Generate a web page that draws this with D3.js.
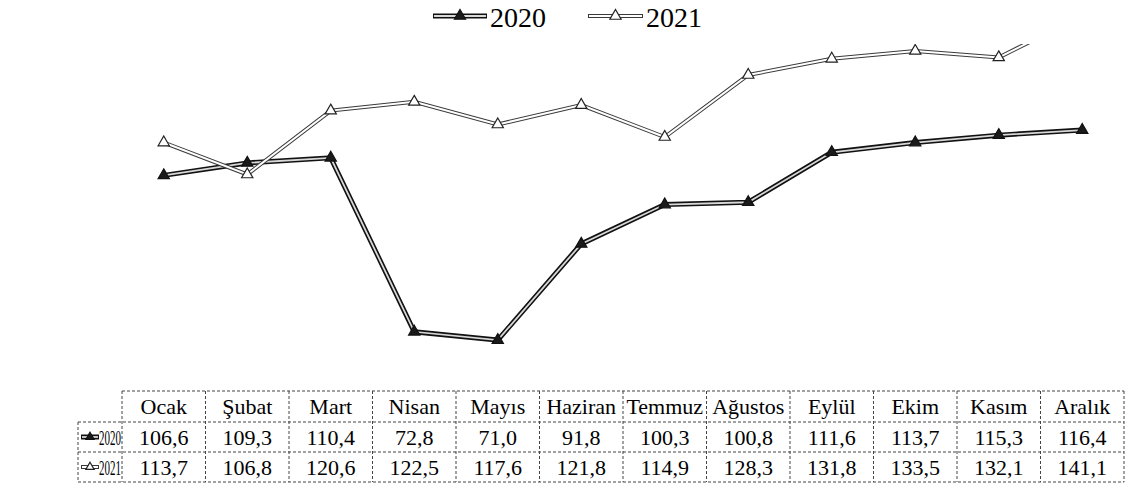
<!DOCTYPE html>
<html>
<head>
<meta charset="utf-8">
<script src="https://cdn.jsdelivr.net/npm/d3@7"></script>
<style>
  html, body { margin: 0; padding: 0; background: #fff; }
  svg { display: block; }
</style>
</head>
<body>
<svg id="chart" width="1127" height="498"></svg>
<script>
// Monthly index values, 2020 vs 2021
const months = ["Ocak", "Şubat", "Mart", "Nisan", "Mayıs", "Haziran", "Temmuz", "Ağustos", "Eylül", "Ekim", "Kasım", "Aralık"];
const values2020 = [106.6, 109.3, 110.4, 72.8, 71.0, 91.8, 100.3, 100.8, 111.6, 113.7, 115.3, 116.4];
const values2021 = [113.7, 106.8, 120.6, 122.5, 117.6, 121.8, 114.9, 128.3, 131.8, 133.5, 132.1, 141.1];
const seriesNames = ["2020", "2021"];
const yDomain = [60, 135];

const FONT = "'Liberation Serif', 'DejaVu Serif', serif";

const series = [
  { name: seriesNames[0], values: values2020, outer: "#111", outerW: 5, inner: "#d8d8d8", innerW: 1.8, markFill: "#1a1a1a", markStroke: "#111" },
  { name: seriesNames[1], values: values2021, outer: "#3a3a3a", outerW: 4, inner: "#ffffff", innerW: 2, markFill: "#ffffff", markStroke: "#222" }
];

const svg = d3.select("#chart").attr("font-family", FONT);

const plot = { left: 122, right: 1124, top: 44, bottom: 391 };
const x = d3.scaleBand().domain(months).range([plot.left, plot.right]);
const cx = m => x(m) + x.bandwidth() / 2;
const y = d3.scaleLinear().domain(yDomain).range([plot.bottom, plot.top]);

const fmt = d3.formatLocale({ decimal: ",", thousands: ".", grouping: [3], currency: ["", ""] }).format(".1f");

svg.append("defs").append("clipPath").attr("id", "plotClip")
  .append("rect")
  .attr("x", plot.left - 20).attr("y", plot.top)
  .attr("width", plot.right - plot.left + 40).attr("height", plot.bottom - plot.top);

const tri = d3.symbol().type(d3.symbolTriangle).size(55);
const triSmall = d3.symbol().type(d3.symbolTriangle).size(30);

const line = d3.line().x((d, i) => cx(months[i])).y(d => y(d));

const g = svg.append("g").attr("clip-path", "url(#plotClip)");

// Lines drawn as an outlined double stroke, with triangle markers
series.forEach(s => {
  g.append("path").attr("d", line(s.values)).attr("fill", "none")
    .attr("stroke", s.outer).attr("stroke-width", s.outerW).attr("stroke-linejoin", "miter");
  g.append("path").attr("d", line(s.values)).attr("fill", "none")
    .attr("stroke", s.inner).attr("stroke-width", s.innerW).attr("stroke-linejoin", "miter");
  g.selectAll(null).data(s.values).join("path")
    .attr("d", tri)
    .attr("transform", (d, i) => `translate(${cx(months[i])},${y(d)})`)
    .attr("fill", s.markFill).attr("stroke", s.markStroke).attr("stroke-width", 1.2);
});

// Legend key: short outlined line with a marker in the middle
function legendKey(sel, s, x0, x1, yy, sym) {
  sel.append("line").attr("x1", x0).attr("x2", x1).attr("y1", yy).attr("y2", yy)
    .attr("stroke", s.outer).attr("stroke-width", s.outerW);
  sel.append("line").attr("x1", x0 + 1).attr("x2", x1 - 1).attr("y1", yy).attr("y2", yy)
    .attr("stroke", s.inner).attr("stroke-width", s.innerW);
  sel.append("path").attr("d", sym).attr("transform", `translate(${(x0 + x1) / 2},${yy})`)
    .attr("fill", s.markFill).attr("stroke", s.markStroke).attr("stroke-width", 1.2);
}

const legend = svg.append("g");
const legendPos = [{ k0: 433, k1: 487, tx: 490 }, { k0: 588, k1: 643, tx: 646 }];
series.forEach((s, i) => {
  legendKey(legend, s, legendPos[i].k0, legendPos[i].k1, 16, tri);
  legend.append("text").attr("x", legendPos[i].tx).attr("y", 27)
    .attr("font-size", 28).text(s.name);
});

// Data table below the plot
const table = svg.append("g");
const rowY = [391, 422, 452, 482];
const tableLeft = 78;
const border = { stroke: "#444", "stroke-width": 1, "stroke-dasharray": "3,2" };
function hline(x1, x2, yy) {
  const l = table.append("line").attr("x1", x1).attr("x2", x2).attr("y1", yy).attr("y2", yy);
  Object.entries(border).forEach(([k, v]) => l.attr(k, v));
}
function vline(xx, y1, y2) {
  const l = table.append("line").attr("x1", xx).attr("x2", xx).attr("y1", y1).attr("y2", y2);
  Object.entries(border).forEach(([k, v]) => l.attr(k, v));
}
hline(plot.left, plot.right, rowY[0]);
hline(tableLeft, plot.right, rowY[1]);
hline(tableLeft, plot.right, rowY[2]);
hline(tableLeft, plot.right, rowY[3]);
months.forEach(m => vline(x(m), rowY[0], rowY[3]));
vline(plot.right, rowY[0], rowY[3]);
vline(tableLeft, rowY[1], rowY[3]);

table.selectAll(null).data(months).join("text")
  .attr("x", m => cx(m)).attr("y", rowY[0] + 23)
  .attr("text-anchor", "middle").attr("font-size", 22).text(m => m);

series.forEach((s, r) => {
  const base = rowY[r + 1] + 23;
  table.selectAll(null).data(s.values).join("text")
    .attr("x", (d, i) => cx(months[i])).attr("y", base)
    .attr("text-anchor", "middle").attr("font-size", 22).text(d => fmt(d));
  legendKey(table, s, tableLeft + 3, tableLeft + 21, rowY[r + 1] + 15, triSmall);
  table.append("text").attr("x", tableLeft + 21).attr("y", base)
    .attr("font-size", 22).attr("textLength", 22).attr("lengthAdjust", "spacingAndGlyphs")
    .text(s.name);
});
</script>
</body>
</html>
